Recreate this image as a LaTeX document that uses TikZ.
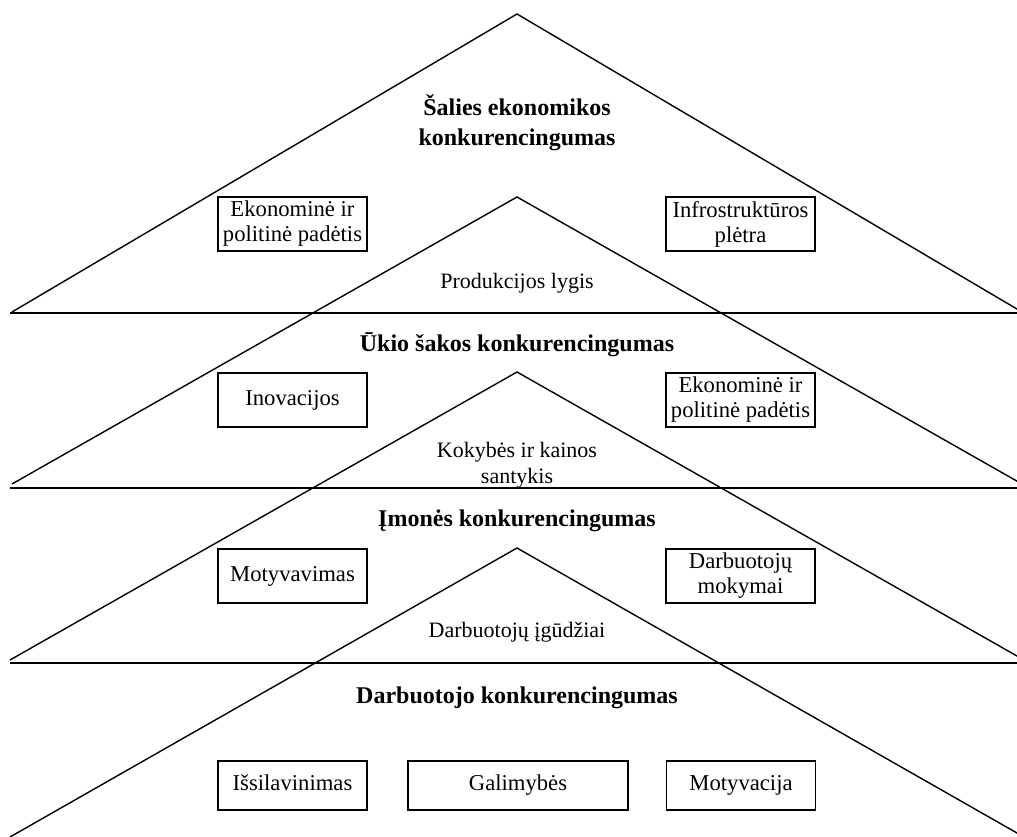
\documentclass[tikz,border=0pt]{standalone}
\usepackage{fontspec}
\setmainfont{Liberation Serif}
\tikzset{
	lvl/.style={line width=1.05pt},
	base/.style={line width=1.5pt},
	factor/.style={draw,line width=1.45pt,minimum width=111.75pt,minimum height=40.5pt,inner sep=1pt,align=center,font=\fontsize{17}{18.75}\selectfont},
	single/.style={text height=11.5pt,text depth=3.5pt},
	title/.style={align=center,font=\fontsize{18}{22.5}\selectfont\bfseries},
	mid/.style={align=center,font=\fontsize{16.5}{19.5}\selectfont}
}
\begin{document}
\begin{tikzpicture}[x=0.75pt,y=-0.75pt]
		\useasboundingbox (0,0) rectangle (1017,837);
		\clip (0,0) rectangle (1017,837);
		% triangles
		\draw[lvl] (12,312) -- (517,14) -- (1022,312);
		\draw[lvl] (12,484) -- (517,197) -- (1022,484);
		\draw[lvl] (10,660) -- (517,372) -- (1024,660);
		\draw[lvl] (10,837) -- (517,548) -- (1024,837);
		% levels
		\draw[base] (10,313) -- (1017,313);
		\draw[base] (10,488) -- (1017,488);
		\draw[base] (10,663) -- (1017,663);
		% titles
		\node[title] (salis) at (517,123) {Šalies ekonomikos\\konkurencingumas};
		\node[title] (saka) at (517,345) {Ūkio šakos konkurencingumas};
		\node[title] (imone) at (517,521) {Įmonės konkurencingumas};
		\node[title] (darbuotojas) at (517,698) {Darbuotojo konkurencingumas};
		% links between levels
		\node[mid] (produkcija) at (517,283) {Produkcijos lygis};
		\node[mid] (kokybe) at (517,465) {Kokybės ir kainos\\santykis};
		\node[mid] (igudziai) at (517,632) {Darbuotojų įgūdžiai};
		% factors
		\node[factor] (ekon1) at (292.5,224) {Ekonominė ir\\politinė padėtis};
		\node[factor] (infra) at (740.5,224) {Infrostruktūros\\plėtra};
		\node[factor,single] (inov) at (292.5,400) {Inovacijos};
		\node[factor] (ekon2) at (740.5,400) {Ekonominė ir\\politinė padėtis};
		\node[factor,single] (motyv) at (292.5,576) {Motyvavimas};
		\node[factor] (mokymai) at (740.5,576) {Darbuotojų\\mokymai};
		\node[factor,single,minimum height=36.75pt] (issil) at (292.5,785.5) {Išsilavinimas};
		\node[factor,single,minimum height=36.75pt,minimum width=165pt] (galim) at (518,785.5) {Galimybės};
		\node[factor,single,minimum height=36.75pt] (motyvac) at (741,785.5) {Motyvacija};
\end{tikzpicture}
\end{document}
